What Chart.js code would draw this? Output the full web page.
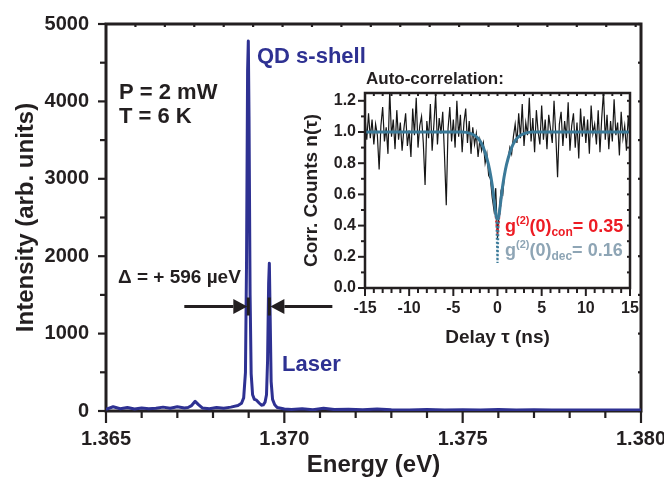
<!DOCTYPE html>
<html>
<head>
<meta charset="utf-8">
<script src="https://cdn.jsdelivr.net/npm/chart.js@4.4.3/dist/chart.umd.min.js"></script>
<style>
  html, body { margin: 0; padding: 0; background: #fff; }
  #wrap { position: relative; width: 664px; height: 482px; }
  #main { position: absolute; left: 0; top: 0; }
  #inset { position: absolute; left: 290px; top: 62px; }
</style>
</head>
<body>
<div id="wrap">
  <canvas id="main" width="664" height="482"></canvas>
  <canvas id="inset" width="350" height="290"></canvas>
</div>
<script>
// PL spectrum (energy in eV, intensity in arb. units)
const specEnergy = [1.3650, 1.3652, 1.3654, 1.3656, 1.3658, 1.3660, 1.3662, 1.3664, 1.3666, 1.3668, 1.3670, 1.3672,
  1.3673, 1.3674, 1.3675, 1.3676, 1.3677, 1.3679, 1.3681, 1.3683, 1.3685, 1.3687, 1.3688,
  1.36886, 1.36891, 1.36894, 1.36897, 1.36899, 1.36901, 1.36904, 1.36907, 1.36911, 1.36916, 1.36922, 1.36930,
  1.36936, 1.36941, 1.36946, 1.36950, 1.36953, 1.36956, 1.36958, 1.36960, 1.36963, 1.36967, 1.36973,
  1.3698, 1.3700, 1.3702, 1.3705, 1.3708, 1.3711, 1.3714, 1.3718, 1.3722, 1.3726, 1.3730,
  1.3735, 1.3740, 1.3745, 1.3750, 1.3755, 1.3760, 1.3765, 1.3770, 1.3775, 1.3780, 1.3785, 1.3790, 1.3795, 1.3800];
const specIntensity = [20, 55, 30, 45, 25, 40, 30, 35, 50, 35, 55, 40,
  45, 70, 125, 80, 40, 30, 45, 35, 50, 70, 100,
  170, 500, 1900, 4400, 4780, 3800, 1500, 480, 210, 150, 140, 100,
  75, 80, 115, 210, 650, 1650, 1910, 1300, 380, 150, 80,
  45, 25, 20, 30, 15, 35, 18, 22, 15, 25, 15,
  12, 20, 12, 15, 12, 18, 12, 15, 12, 14, 12, 13, 12, 12];
const qdPeak = 1.36899;
const laserPeak = 1.36958;
const xTickLabels = ["1.365", "1.370", "1.375", "1.380"];

// auto-correlation, 0.2 ns bins from -15 to 15 ns
const corrCounts = [
  1.10, 0.95, 1.12, 0.96, 1.08, 0.92, 1.05, 0.98, 0.76, 1.04,
  1.16, 0.94, 1.03, 0.86, 1.27, 0.97, 1.08, 0.89, 1.14, 0.95,
  1.06, 0.88, 1.02, 1.12, 0.91, 1.01, 0.84, 1.15, 0.98, 1.22,
  0.90, 1.04, 1.10, 0.93, 0.66, 1.07, 0.96, 1.18, 0.88, 1.05,
  1.24, 0.92, 1.09, 0.99, 1.13, 0.85, 0.53, 1.02, 1.16, 0.94,
  1.08, 0.90, 1.20, 0.97, 1.11, 0.87, 1.06, 1.15, 0.93, 1.07,
  0.86, 1.03, 0.92, 0.99, 0.84, 0.95, 0.88, 0.93, 0.80, 0.86,
  0.72, 0.70, 0.58, 0.50, 0.64, 0.32, 0.50, 0.62, 0.60, 0.74,
  0.79, 0.83, 0.90, 0.86, 0.97, 1.05, 0.93, 1.12, 0.96, 1.18,
  0.91, 1.06, 0.98, 1.22, 0.94, 1.09, 0.87, 1.14, 1.00, 0.92,
  1.17, 0.95, 1.08, 0.89, 1.11, 1.02, 0.93, 1.20, 0.98, 0.71,
  1.05, 1.13, 0.91, 1.07, 0.96, 1.19, 0.88, 1.04, 1.12, 0.90,
  1.06, 0.83, 1.15, 0.97, 1.10, 0.93, 1.08, 0.86, 1.17, 0.99,
  1.05, 0.92, 1.14, 0.87, 1.09, 1.26, 0.95, 1.11, 0.89, 1.07,
  0.94, 1.21, 0.98, 1.06, 0.85, 1.13, 0.96, 1.04, 0.88, 1.10,
  0.97];
const corrStart = -15, corrBin = 0.2;

// fit (solid), deconvolved tail (dotted), convolved fit (red dotted)
const fitTau = [-15, -4, -3, -2.5, -2, -1.6, -1.2, -0.9, -0.6, -0.4, -0.25, -0.12, 0.12, 0.25, 0.4, 0.6, 0.9, 1.2, 1.6, 2, 2.5, 3, 4, 15];
const fitVal = [1.0, 1.0, 0.99, 0.975, 0.945, 0.9, 0.83, 0.76, 0.66, 0.57, 0.5, 0.45, 0.45, 0.5, 0.57, 0.66, 0.76, 0.83, 0.9, 0.945, 0.975, 0.99, 1.0, 1.0];
const decTau = [-0.12, -0.06, 0, 0.06, 0.12];
const decVal = [0.45, 0.3, 0.16, 0.3, 0.45];
const conTau = [-1.2, -0.8, -0.5, -0.3, -0.15, 0, 0.15, 0.3, 0.5, 0.8, 1.2];
const conVal = [0.84, 0.73, 0.6, 0.5, 0.41, 0.35, 0.41, 0.5, 0.6, 0.73, 0.84];

const INK = "#231f20";
const BLUE = "#2e3192";
const TEAL = "#3b7a99";
const RED = "#ed1c24";
const GREYBLUE = "#8ea5b5";
const FONT = "'Liberation Sans', Arial, Helvetica, sans-serif";
const bold = (size) => ({ family: FONT, size, weight: "bold" });

const pairs = (xs, ys) => xs.map((x, i) => ({ x, y: ys[i] }));

// stop chart.js from reserving room for overhanging tick labels
const fixX = (h) => (s) => { s.height = h; s.paddingLeft = 0; s.paddingRight = 0; };
const fixY = (w) => (s) => { s.width = w; s.paddingTop = 0; s.paddingBottom = 0; };

function line(ctx, x1, y1, x2, y2) {
  ctx.beginPath(); ctx.moveTo(x1, y1); ctx.lineTo(x2, y2); ctx.stroke();
}

function arrow(ctx, fromX, toX, yy) {
  const dir = Math.sign(toX - fromX);
  const head = 14, half = 7.5;
  ctx.lineWidth = 3;
  line(ctx, fromX, yy, toX - dir * head, yy);
  ctx.beginPath();
  ctx.moveTo(toX, yy);
  ctx.lineTo(toX - dir * head, yy - half);
  ctx.lineTo(toX - dir * head, yy + half);
  ctx.closePath();
  ctx.fill();
}

function richText(ctx, x, y, parts, color) {
  ctx.fillStyle = color;
  ctx.textBaseline = "alphabetic";
  ctx.textAlign = "left";
  for (const [t, size, dy] of parts) {
    ctx.font = `bold ${size}px ${FONT}`;
    ctx.fillText(t, x, y + dy);
    x += ctx.measureText(t).width;
  }
}

// frame + tick marks of the main spectrum
const mainDecor = {
  id: "mainDecor",
  beforeDatasetsDraw(chart) {
    const { ctx, chartArea: a, scales: { x, y } } = chart;
    ctx.save();
    ctx.strokeStyle = INK;
    ctx.lineWidth = 2.2;
    for (let k = 0; k <= 15; k++) {
      const px = x.getPixelForValue(1.365 + k * 0.001);
      line(ctx, px, a.bottom, px, a.bottom + (k % 5 ? 7 : 12));
    }
    for (let k = 1; k * 0.000825 < 0.015; k++) {
      const px = x.getPixelForValue(1.365 + k * 0.000825);
      line(ctx, px, a.top, px, a.top + 3);
    }
    for (let k = 0; k <= 10; k++) {
      const py = y.getPixelForValue(k * 500);
      line(ctx, a.left, py, a.left - (k % 2 ? 6 : 8), py);
      line(ctx, a.right, py, a.right - 3, py);
    }
    ctx.lineWidth = 3;
    ctx.strokeRect(a.left, a.top, a.right - a.left, a.bottom - a.top);
    ctx.restore();
  },
  afterDatasetsDraw(chart) {
    const { ctx, scales: { x, y } } = chart;
    ctx.save();
    ctx.fillStyle = INK;
    ctx.strokeStyle = INK;
    const qx = x.getPixelForValue(qdPeak);
    const lx = x.getPixelForValue(laserPeak);
    const ay = y.getPixelForValue(1350);
    arrow(ctx, qx - 64, qx - 1, ay);
    arrow(ctx, lx + 63, lx + 1, ay);
    ctx.lineWidth = 3;
    line(ctx, qx, ay - 9, qx, ay + 9);
    line(ctx, lx, ay - 9, lx, ay + 9);

    ctx.textAlign = "left";
    ctx.textBaseline = "alphabetic";
    ctx.font = `bold 22px ${FONT}`;
    ctx.fillText("P = 2 mW", 119, 99);
    ctx.fillText("T = 6 K", 119, 123);
    ctx.font = `bold 19px ${FONT}`;
    ctx.fillText("\u0394 = + 596 \u00b5eV", 118, 283);
    ctx.fillStyle = BLUE;
    ctx.font = `bold 22px ${FONT}`;
    ctx.fillText("QD s-shell", 257, 63);
    ctx.fillText("Laser", 282, 371);
    ctx.restore();
  }
};

new Chart(document.getElementById("main"), {
  type: "scatter",
  data: {
    datasets: [{
      data: pairs(specEnergy, specIntensity),
      showLine: true,
      borderColor: BLUE,
      borderWidth: 3,
      borderJoinStyle: "round",
      pointRadius: 0,
      tension: 0
    }]
  },
  options: {
    responsive: false,
    devicePixelRatio: 1,
    animation: false,
    events: [],
    layout: { padding: { top: 24, right: 23, left: 0, bottom: 0 } },
    plugins: { legend: { display: false }, tooltip: { enabled: false } },
    scales: {
      x: {
        type: "linear", min: 1.365, max: 1.380,
        afterFit: fixX(71),
        grid: { display: false, drawTicks: false },
        border: { display: false },
        ticks: {
          stepSize: 0.005, padding: 16, color: INK, font: bold(20), maxRotation: 0,
          callback: (v) => xTickLabels.find((t) => Math.abs(parseFloat(t) - v) < 1e-6) ?? ""
        },
        title: { display: true, text: "Energy (eV)", color: INK, font: bold(24), padding: { top: 0, bottom: 2 } }
      },
      y: {
        min: 0, max: 5000,
        afterFit: fixY(106),
        grid: { display: false, drawTicks: false },
        border: { display: false },
        ticks: { stepSize: 1000, padding: 17, color: INK, font: bold(20), callback: (v) => String(v) },
        title: { display: true, text: "Intensity (arb. units)", color: INK, font: bold(24), padding: { top: 12, bottom: 0 } }
      }
    }
  },
  plugins: [mainDecor]
});

// inset: frame, ticks and labels
const insetDecor = {
  id: "insetDecor",
  beforeDatasetsDraw(chart) {
    const { ctx, chartArea: a, scales: { x, y } } = chart;
    ctx.save();
    ctx.strokeStyle = INK;
    ctx.lineWidth = 2;
    for (let k = -15; k <= 15; k++) {
      const px = x.getPixelForValue(k);
      line(ctx, px, a.bottom, px, a.bottom + (k % 5 ? 5 : 8));
      line(ctx, px, a.top, px, a.top + 3);
    }
    for (let k = 0; k <= 12; k++) {
      const py = y.getPixelForValue(k / 10);
      line(ctx, a.left, py, a.left - (k % 2 ? 4 : 7), py);
      line(ctx, a.right, py, a.right - 3, py);
    }
    ctx.restore();
  },
  afterDatasetsDraw(chart) {
    const { ctx, chartArea: a } = chart;
    ctx.save();
    ctx.strokeStyle = INK;
    ctx.lineWidth = 2.5;
    ctx.strokeRect(a.left, a.top, a.right - a.left, a.bottom - a.top);
    ctx.fillStyle = INK;
    ctx.textAlign = "left";
    ctx.textBaseline = "alphabetic";
    ctx.font = `bold 17px ${FONT}`;
    ctx.fillText("Auto-correlation:", 76, 22);
    richText(ctx, 215, 170, [["g", 18, 0], ["(2)", 11, -8], ["(0)", 18, 0], ["con", 12, 4], ["= 0.35", 18, 0]], RED);
    richText(ctx, 215, 194, [["g", 18, 0], ["(2)", 11, -8], ["(0)", 18, 0], ["dec", 12, 4], ["= 0.16", 18, 0]], GREYBLUE);
    ctx.restore();
  }
};

new Chart(document.getElementById("inset"), {
  type: "scatter",
  data: {
    datasets: [
      { data: pairs(decTau, decVal), showLine: true, borderColor: TEAL, borderWidth: 2.2, borderDash: [2, 2], pointRadius: 0 },
      { data: pairs(fitTau, fitVal), showLine: true, borderColor: TEAL, borderWidth: 3, pointRadius: 0, cubicInterpolationMode: "monotone" },
      { data: pairs(conTau, conVal), showLine: true, borderColor: RED, borderWidth: 1.5, borderDash: [2, 2], pointRadius: 0, cubicInterpolationMode: "monotone" },
      { data: corrCounts.map((v, i) => ({ x: corrStart + i * corrBin, y: v })), showLine: true, borderColor: "#161616", borderWidth: 1.2, pointRadius: 0 }
    ]
  },
  options: {
    responsive: false,
    devicePixelRatio: 1,
    animation: false,
    events: [],
    layout: { padding: { top: 31, right: 10, left: 0, bottom: 0 } },
    plugins: { legend: { display: false }, tooltip: { enabled: false } },
    scales: {
      x: {
        type: "linear", min: -15, max: 15,
        afterFit: fixX(64),
        grid: { display: false, drawTicks: false },
        border: { display: false },
        ticks: { stepSize: 5, padding: 11, color: INK, font: bold(16), maxRotation: 0, callback: (v) => String(v) },
        title: { display: true, text: "Delay \u03c4 (ns)", color: INK, font: bold(19), padding: { top: 0, bottom: 3 } }
      },
      y: {
        min: 0, max: 1.25,
        afterFit: fixY(75),
        grid: { display: false, drawTicks: false },
        border: { display: false },
        ticks: { stepSize: 0.2, includeBounds: false, padding: 9, color: INK, font: bold(16), callback: (v) => v.toFixed(1) },
        title: { display: true, text: "Corr. Counts n(\u03c4)", color: INK, font: bold(19), padding: { top: 10, bottom: 0 } }
      }
    }
  },
  plugins: [insetDecor]
});
</script>
</body>
</html>
